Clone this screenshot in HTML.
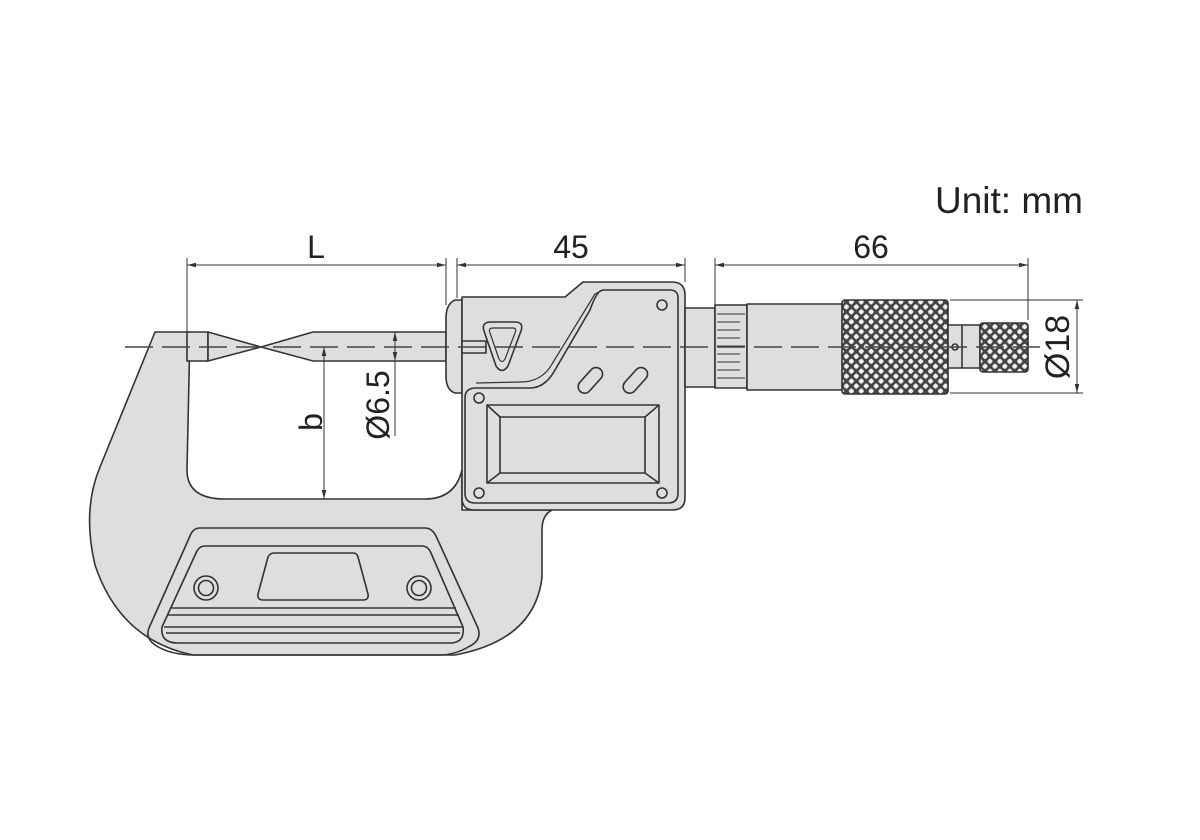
<!DOCTYPE html>
<html><head><meta charset="utf-8"><style>
html,body{margin:0;padding:0;background:#fff;width:1200px;height:840px;overflow:hidden}
svg{display:block}
text{font-family:"Liberation Sans",Arial,sans-serif;fill:#222}
</style></head><body>
<svg width="1200" height="840" viewBox="0 0 1200 840" xmlns="http://www.w3.org/2000/svg">
<defs>
<marker id="a" viewBox="0 0 10 10" refX="10" refY="5" markerWidth="9" markerHeight="9" orient="auto-start-reverse" markerUnits="userSpaceOnUse"><path d="M0,2.5 L10,5 L0,7.5 Z" fill="#333"/></marker>
<pattern id="k" width="7" height="7" patternUnits="userSpaceOnUse" patternTransform="rotate(45)">
<rect width="7" height="7" fill="#444"/><rect x="1.3" y="1.3" width="4.4" height="4.4" rx="1.2" fill="#f2f2f2"/></pattern>
</defs>
<g stroke="#333" stroke-width="1.6" fill="#dedede" stroke-linejoin="round">
<!-- frame -->
<path d="M155,332 L190,332 L187,470 Q187,499 225,499 L425,499 Q455,499 462,470 L462,510 L552,510 Q542,515 542,530 L542,577 Q535,640 455,655 L193,655 Q120,640 95,565 Q82,510 100,467 Z"/>
<!-- bottom trapezoid -->
<path d="M200,528 L425,528 Q432,528 436,536 L478,628 Q482,640 470,646 Q455,655 440,655 L195,655 Q170,655 155,645 Q145,638 149,628 L190,536 Q193,528 200,528 Z" fill="none"/>
<path d="M205,546 L422,546 Q428,546 431,553 L463,627 Q465,643 450,643 L178,643 Q160,643 162,627 L196,553 Q199,546 205,546 Z" fill="none"/>
<line x1="170" y1="608" x2="456" y2="608"/>
<line x1="168" y1="615" x2="459" y2="615"/>
<line x1="164" y1="627" x2="463" y2="627"/>
<line x1="166" y1="633" x2="460" y2="633"/>
<path d="M274,553 L353,553 Q357,553 358,557 L368,594 Q369,600 363,600 L263,600 Q257,600 258,594 L268,557 Q270,553 274,553 Z"/>
<circle cx="206" cy="588" r="12" fill="none"/><circle cx="206" cy="588" r="7.5" fill="none"/>
<circle cx="419" cy="588" r="12" fill="none"/><circle cx="419" cy="588" r="7.5" fill="none"/>
<!-- anvil & spindle -->
<rect x="187" y="332" width="21" height="29"/>
<path d="M208,332 L261,347 L313,332 L446,332 L446,361 L313,361 L261,347 L208,361 Z"/>
<!-- head collar -->
<path d="M462,300 L455,300 Q446,304 446,318 L446,376 Q446,390 455,393 L462,393 Z"/>
<!-- head -->
<path d="M462,297 L565,297 L583,282 L672,282 Q685,282 685,295 L685,498 Q685,510 672,510 L474,510 Q462,510 462,498 Z"/>
<path d="M603,290 L670,290 Q678,290 678,298 L678,493 Q678,503 668,503 L475,503 Q465,503 465,493 L465,398 Q465,388 476,388 L530,388 Q545,388 555,370 L590,310 Q597,290 603,290 Z" fill="none"/>
<path d="M603,290 L595,294 L552,364 Q542,382 520,382 L476,383" fill="none" stroke-width="1.2"/>
<!-- display -->
<rect x="487" y="405" width="172" height="78" fill="none"/>
<rect x="500" y="417" width="145" height="56" fill="none"/>
<line x1="487" y1="405" x2="500" y2="417"/><line x1="659" y1="405" x2="645" y2="417"/>
<line x1="487" y1="483" x2="500" y2="473"/><line x1="659" y1="483" x2="645" y2="473"/>
<!-- screws -->
<circle cx="662" cy="305" r="5"/><circle cx="479" cy="398" r="5"/><circle cx="479" cy="493" r="5"/><circle cx="662" cy="493" r="5"/>
<!-- buttons -->
<rect x="575" y="374" width="30" height="13" rx="6.5" transform="rotate(-48 590 380)"/>
<rect x="620" y="374" width="30" height="13" rx="6.5" transform="rotate(-48 635 380)"/>
<!-- keyhole -->
<path d="M491,322 L515,322 Q524,322 521,331 L508,366 Q502,375 496,366 L484,331 Q481,322 491,322 Z"/>
<path d="M493,328 L513,328 Q517,328 515,333 L505,359 Q502,364 499,359 L490,333 Q488,328 493,328 Z" fill="none" stroke-width="1.2"/>
<rect x="462" y="341" width="24" height="12"/>
<!-- sleeve / thimble -->
<rect x="685" y="308" width="30" height="79"/>
<rect x="715" y="305" width="32" height="83"/>
<g stroke-width="1">
<line x1="717" y1="314" x2="745" y2="314"/><line x1="717" y1="322" x2="740" y2="322"/><line x1="717" y1="330" x2="740" y2="330"/><line x1="717" y1="338" x2="740" y2="338"/><line x1="717" y1="346" x2="745" y2="346"/><line x1="717" y1="354" x2="740" y2="354"/><line x1="717" y1="362" x2="740" y2="362"/><line x1="717" y1="370" x2="740" y2="370"/><line x1="717" y1="378" x2="745" y2="378"/>
</g>
<rect x="747" y="304" width="96" height="86"/>
<rect x="842" y="300" width="106" height="94" rx="3" fill="url(#k)"/>
<rect x="948" y="325" width="32" height="43"/>
<line x1="962" y1="325" x2="962" y2="368"/>
<circle cx="955" cy="347" r="3"/>
<rect x="980" y="323" width="48" height="49" rx="3" fill="url(#k)"/>
</g>
<!-- centerline -->
<line x1="125" y1="347" x2="1040" y2="347" stroke="#444" stroke-width="1.6" stroke-dasharray="28,9"/>
<!-- dimensions -->
<g stroke="#333" stroke-width="1" fill="none">
<line x1="187" y1="258" x2="187" y2="332"/>
<line x1="446" y1="258" x2="446" y2="305"/>
<line x1="457" y1="258" x2="457" y2="298"/>
<line x1="685" y1="258" x2="685" y2="282"/>
<line x1="715" y1="258" x2="715" y2="305"/>
<line x1="1028" y1="258" x2="1028" y2="320"/>
<line x1="187" y1="265" x2="446" y2="265" marker-start="url(#a)" marker-end="url(#a)"/>
<line x1="457" y1="265" x2="685" y2="265" marker-start="url(#a)" marker-end="url(#a)"/>
<line x1="715" y1="265" x2="1028" y2="265" marker-start="url(#a)" marker-end="url(#a)"/>
<line x1="950" y1="300" x2="1083" y2="300"/>
<line x1="950" y1="393" x2="1083" y2="393"/>
<line x1="1077" y1="300" x2="1077" y2="393" marker-start="url(#a)" marker-end="url(#a)"/>
<line x1="324" y1="347" x2="324" y2="499" marker-start="url(#a)" marker-end="url(#a)"/>
<line x1="395" y1="332" x2="395" y2="361" marker-start="url(#a)" marker-end="url(#a)"/>
<line x1="395" y1="361" x2="395" y2="436"/>
</g>
<text x="316" y="258" font-size="32" text-anchor="middle">L</text>
<text x="571" y="258" font-size="32" text-anchor="middle">45</text>
<text x="871" y="258" font-size="32" text-anchor="middle">66</text>
<text x="1083" y="213" font-size="37" text-anchor="end">Unit: mm</text>
<text transform="translate(1069,347) rotate(-90)" font-size="34" text-anchor="middle">Ø18</text>
<text transform="translate(389,405) rotate(-90)" font-size="32" text-anchor="middle">Ø6.5</text>
<text transform="translate(322,422) rotate(-90)" font-size="32" text-anchor="middle">b</text>
</svg>
</body></html>
